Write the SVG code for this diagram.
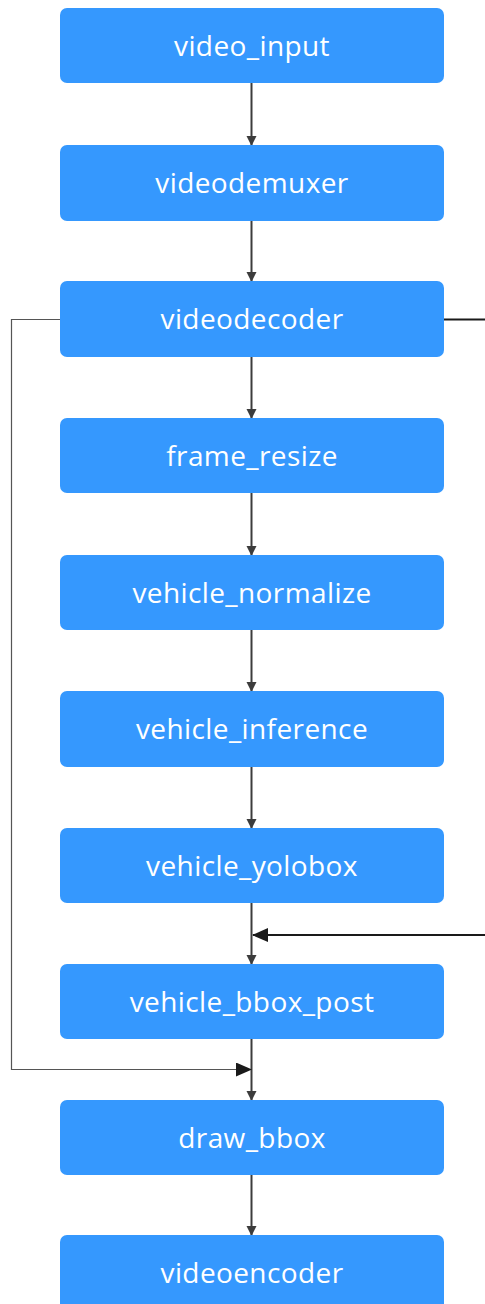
<svg xmlns="http://www.w3.org/2000/svg" width="485" height="1304" viewBox="0 0 485 1304">
<style>
.box{fill:#3598fe;}
.lbl{fill:#ffffff;font-family:"Open Sans","Noto Sans",sans-serif;font-size:28px;letter-spacing:0.4px;text-anchor:middle;}
.v{stroke:#3c3c3c;stroke-width:2;fill:none;}
.side{stroke:#1a1a1a;stroke-width:2;fill:none;}
.thin{stroke:#555555;stroke-width:1.2;fill:none;}
</style>
<defs>
<marker id="ah" markerWidth="10" markerHeight="14" refX="9" refY="7" orient="auto" markerUnits="userSpaceOnUse">
<path d="M0,2 L10,7 L0,12 Z" fill="#3c3c3c"/>
</marker>
<marker id="ah2" markerWidth="16" markerHeight="14" refX="15" refY="7" orient="auto" markerUnits="userSpaceOnUse">
<path d="M0,0 L16,7 L0,14 Z" fill="#1a1a1a"/>
</marker>
</defs>
<g id="connectors">
<line class="v" x1="251.5" y1="83" x2="251.5" y2="145" marker-end="url(#ah)"/>
<line class="v" x1="251.5" y1="221" x2="251.5" y2="281" marker-end="url(#ah)"/>
<line class="v" x1="251.5" y1="357" x2="251.5" y2="418" marker-end="url(#ah)"/>
<line class="v" x1="251.5" y1="493" x2="251.5" y2="555" marker-end="url(#ah)"/>
<line class="v" x1="251.5" y1="630" x2="251.5" y2="691" marker-end="url(#ah)"/>
<line class="v" x1="251.5" y1="767" x2="251.5" y2="828" marker-end="url(#ah)"/>
<line class="v" x1="251.5" y1="903" x2="251.5" y2="964" marker-end="url(#ah)"/>
<line class="v" x1="251.5" y1="1039" x2="251.5" y2="1100" marker-end="url(#ah)"/>
<line class="v" x1="251.5" y1="1175" x2="251.5" y2="1235" marker-end="url(#ah)"/>
<line class="side" x1="444" y1="319.5" x2="485" y2="319.5"/>
<line class="side" x1="485" y1="935" x2="253" y2="935" marker-end="url(#ah2)"/>
<polyline class="thin" points="60,319.5 11.5,319.5 11.5,1069.5 251,1069.5" marker-end="url(#ah2)"/>
</g>
<g id="video_input"><rect class="box" x="60" y="8" width="384" height="75" rx="7"/><text class="lbl" x="252" y="56">video_input</text></g>
<g id="videodemuxer"><rect class="box" x="60" y="145" width="384" height="76" rx="7"/><text class="lbl" x="252" y="193">videodemuxer</text></g>
<g id="videodecoder"><rect class="box" x="60" y="281" width="384" height="76" rx="7"/><text class="lbl" x="252" y="329">videodecoder</text></g>
<g id="frame_resize"><rect class="box" x="60" y="418" width="384" height="75" rx="7"/><text class="lbl" x="252" y="466">frame_resize</text></g>
<g id="vehicle_normalize"><rect class="box" x="60" y="555" width="384" height="75" rx="7"/><text class="lbl" x="252" y="603">vehicle_normalize</text></g>
<g id="vehicle_inference"><rect class="box" x="60" y="691" width="384" height="76" rx="7"/><text class="lbl" x="252" y="739">vehicle_inference</text></g>
<g id="vehicle_yolobox"><rect class="box" x="60" y="828" width="384" height="75" rx="7"/><text class="lbl" x="252" y="876">vehicle_yolobox</text></g>
<g id="vehicle_bbox_post"><rect class="box" x="60" y="964" width="384" height="75" rx="7"/><text class="lbl" x="252" y="1012">vehicle_bbox_post</text></g>
<g id="draw_bbox"><rect class="box" x="60" y="1100" width="384" height="75" rx="7"/><text class="lbl" x="252" y="1148">draw_bbox</text></g>
<g id="videoencoder"><rect class="box" x="60" y="1235" width="384" height="80" rx="7"/><text class="lbl" x="252" y="1283">videoencoder</text></g>
</svg>
